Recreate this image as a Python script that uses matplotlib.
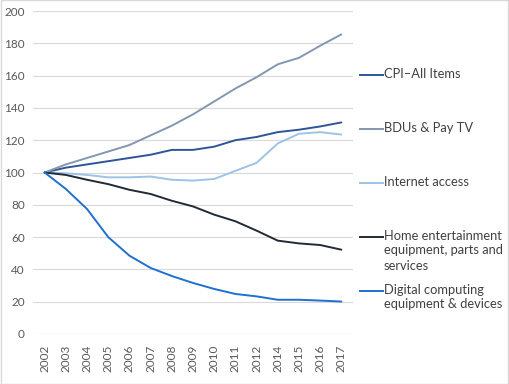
import numpy as np
import matplotlib
matplotlib.use('Agg')
import matplotlib.pyplot as plt
from matplotlib.lines import Line2D
from matplotlib.patches import Rectangle

plt.rcParams['font.family'] = ['Lato', 'DejaVu Sans']

# data (2013 is missing in the original)
years = ['2002', '2003', '2004', '2005', '2006', '2007', '2008', '2009',
         '2010', '2011', '2012', '2014', '2015', '2016', '2017']
cpi = [100, 103, 105, 107, 109, 111, 114, 114, 116, 120, 122, 125, 126.5, 128.5, 131]
bdu = [100, 105, 109, 113, 117, 123, 129, 136, 144, 152, 159, 167, 171, 178.5, 185.5]
internet = [100, 99.5, 98.5, 97, 97, 97.5, 95.5, 95, 96, 101, 106, 118, 124, 125, 123.5]
home = [100, 98.5, 95.5, 92.8, 89.3, 86.7, 82.5, 79, 73.9, 69.8, 64, 57.8, 56.1, 55.1, 52.2]
digital = [100, 89.8, 77.4, 60, 48.5, 40.9, 35.9, 31.6, 27.9, 24.8, 23.3, 21.2, 21.2, 20.7, 20.1]

names = ['CPI–All Items', 'BDUs & Pay TV', 'Internet access',
         'Home entertainment\nequipment, parts and\nservices',
         'Digital computing\nequipment & devices']
series = [cpi, bdu, internet, home, digital]
colors = ['#2f5597', '#8497b0', '#9dc3e6', '#222a35', '#1f70d0']

fig = plt.figure(figsize=(5.1, 3.84), dpi=100)
ax = fig.add_axes([33/510, 1 - 334/384, 320/510, 323/384])

x = np.arange(len(years))
for s, c in zip(series, colors):
    ax.plot(x, s, color=c, lw=1.4, solid_capstyle='round')

ax.set_ylim(0, 200)
ax.set_yticks(range(0, 201, 20))
ax.set_xlim(-0.55, len(years) - 0.45)
ax.set_xticks(x)
ax.set_xticklabels(years, rotation=90)
ax.grid(axis='y', color='#d9d9d9', lw=0.8)
ax.set_axisbelow(True)
for sp in ax.spines.values():
    sp.set_visible(False)
ax.tick_params(length=0, labelsize=8.5, labelcolor='#595959')
ax.tick_params(axis='x', pad=8)
ax.tick_params(axis='y', pad=6)

# legend drawn by hand, matching the spacing of the original
leg_y = [75, 129, 183, 237, 291]
for name, c, yy in zip(names, colors, leg_y):
    fy = 1 - yy / 384
    fig.add_artist(Line2D([360/510, 383/510], [fy, fy], color=c, lw=1.4))
    fig.text(384/510, fy + 7.5/384, name, fontsize=9.3, color='#404040',
             va='top', ha='left', linespacing=1.3)

fig.add_artist(Rectangle((1/510, 0), 507/510, 1, fill=False, ec='#d9d9d9', lw=1))

fig.savefig('out.png', dpi=100)
